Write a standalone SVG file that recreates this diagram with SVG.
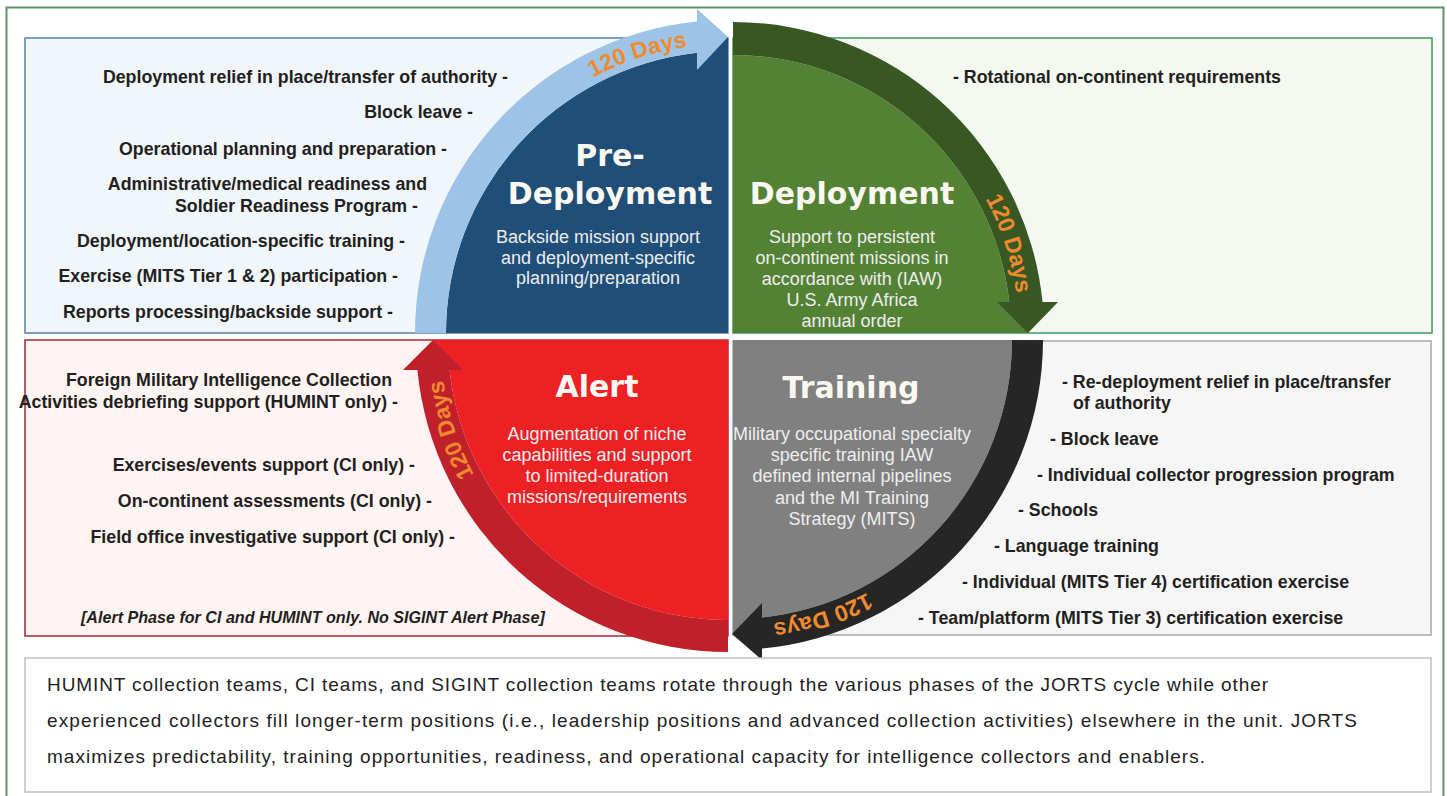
<svg xmlns="http://www.w3.org/2000/svg" width="1447" height="796" viewBox="0 0 1447 796">
<style>
.list{font-family:"Liberation Sans",Arial,sans-serif;font-weight:bold;font-size:17.8px;fill:#231f20}
.note{font-family:"Liberation Sans",Arial,sans-serif;font-weight:bold;font-style:italic;font-size:16.1px;fill:#231f20}
.title{font-family:"DejaVu Sans",sans-serif;font-weight:bold;font-size:30px;fill:#fbf8f1;text-anchor:middle}
.sub{font-family:"Liberation Sans",Arial,sans-serif;font-size:18px;fill:#eeeeee;text-anchor:middle}
.days{font-family:"Liberation Sans",Arial,sans-serif;font-weight:bold;font-size:23px;fill:#f08a2f}
.body{font-family:"Liberation Sans",Arial,sans-serif;font-size:19px;fill:#222222}
.e{text-anchor:end}
</style>
<defs>
<path id="arcBlue" d="M439,333 A289,289 0 0 1 728,44"/>
<path id="arcGreen" d="M733,47 A286,286 0 0 1 1019,333"/>
<path id="arcGray" d="M1019,340 A286,286 0 0 1 733,626"/>
<path id="arcRed" d="M728,627.5 A287.5,287.5 0 0 1 440.5,340"/>
</defs>
<rect x="6.5" y="7.5" width="1437" height="800" fill="#ffffff" stroke="#5e9368" stroke-width="2"/>

<g id="pre-deployment">
<rect x="25" y="38" width="703" height="295" fill="#f1f6fb" stroke="#5581ae" stroke-width="1.5"/>
<path d="M728,333 L446,333 A282,282 0 0 1 697,52.7 L728,37 Z" fill="#1f4e79"/>
<text class="list e" x="508" y="82.5">Deployment relief in place/transfer of authority -</text>
<text class="list e" x="473" y="118">Block leave -</text>
<text class="list e" x="447" y="154.5">Operational planning and preparation -</text>
<text class="list e" x="427" y="190">Administrative/medical readiness and</text>
<text class="list e" x="418" y="211.5">Soldier Readiness Program -</text>
<text class="list e" x="405" y="247">Deployment/location-specific training -</text>
<text class="list e" x="398" y="282">Exercise (MITS Tier 1 &amp; 2) participation -</text>
<text class="list e" x="393" y="317.5">Reports processing/backside support -</text>
<text class="title" x="610" y="166">Pre-</text>
<text class="title" x="610" y="204">Deployment</text>
<text class="sub" x="598" y="243">Backside mission support</text>
<text class="sub" x="598" y="263.5">and deployment-specific</text>
<text class="sub" x="598" y="284">planning/preparation</text>
</g>

<g id="deployment">
<rect x="733" y="38" width="699" height="295" fill="#f3f8f1" stroke="#3d9a62" stroke-width="1.5"/>
<path d="M733,333 L733,55 A278,278 0 0 1 1009.3,302 L1028,333 Z" fill="#548235"/>
<text class="list" x="953" y="82.5">- Rotational on-continent requirements</text>
<text class="title" x="852" y="204">Deployment</text>
<text class="sub" x="852" y="243">Support to persistent</text>
<text class="sub" x="852" y="264">on-continent missions in</text>
<text class="sub" x="852" y="285">accordance with (IAW)</text>
<text class="sub" x="852" y="306">U.S. Army Africa</text>
<text class="sub" x="852" y="327">annual order</text>
</g>

<g id="training">
<rect x="733" y="341" width="698" height="294" fill="#f5f6f5" stroke="#a6a6a6" stroke-width="1.5"/>
<path d="M733,340 L1012,340 A279,279 0 0 1 762,617.5 L733,634 Z" fill="#808080"/>
<text class="list" x="1062" y="388">- Re-deployment relief in place/transfer</text>
<text class="list" x="1073" y="408.5">of authority</text>
<text class="list" x="1050" y="445">- Block leave</text>
<text class="list" x="1037" y="481">- Individual collector progression program</text>
<text class="list" x="1018" y="516">- Schools</text>
<text class="list" x="994" y="552">- Language training</text>
<text class="list" x="962" y="588">- Individual (MITS Tier 4) certification exercise</text>
<text class="list" x="918" y="623.5">- Team/platform (MITS Tier 3) certification exercise</text>
<text class="title" x="851" y="398">Training</text>
<text class="sub" x="852" y="440">Military occupational specialty</text>
<text class="sub" x="852" y="461">specific training IAW</text>
<text class="sub" x="852" y="482">defined internal pipelines</text>
<text class="sub" x="852" y="503.5">and the MI Training</text>
<text class="sub" x="852" y="525">Strategy (MITS)</text>
</g>

<g id="alert">
<rect x="25" y="340" width="703" height="296" fill="#fdf4f3" stroke="#a8262d" stroke-width="1.5"/>
<path d="M728,340 L728,620 A280,280 0 0 1 449.6,370 L433,340 Z" fill="#ed2024"/>
<text class="list e" x="392" y="386">Foreign Military Intelligence Collection</text>
<text class="list e" x="398" y="408">Activities debriefing support (HUMINT only) -</text>
<text class="list e" x="415" y="471">Exercises/events support (CI only) -</text>
<text class="list e" x="432" y="507">On-continent assessments (CI only) -</text>
<text class="list e" x="455" y="543">Field office investigative support (CI only) -</text>
<text class="note" x="81" y="623">[Alert Phase for CI and HUMINT only. No SIGINT Alert Phase]</text>
<text class="title" x="597" y="397">Alert</text>
<text class="sub" x="597" y="440">Augmentation of niche</text>
<text class="sub" x="597" y="461">capabilities and support</text>
<text class="sub" x="597" y="482">to limited-duration</text>
<text class="sub" x="597" y="503">missions/requirements</text>
</g>

<g id="connectors">
<path d="M415,333 A313,313 0 0 1 697,21.5 L697,9 L728,37 L697,70 L697,52.7 A282,282 0 0 0 446,333 Z" fill="#9dc3e6"/>
<path d="M733,22 A311,311 0 0 1 1042.5,302 L1058,302 L1028,333 L997,302 L1009.3,302 A278,278 0 0 0 733,55 Z" fill="#385723"/>
<path d="M1043,340 A310,310 0 0 1 762,648.6 L762,660 L732,634 L762,603 L762,617.5 A279,279 0 0 0 1012,340 Z" fill="#262626"/>
<path d="M728,652 A312,312 0 0 1 417.4,370 L403,370 L433,340 L463,370 L449.6,370 A280,280 0 0 0 728,620 Z" fill="#c0202a"/>
<text class="days"><textPath href="#arcBlue" startOffset="80%" text-anchor="middle">120 Days</textPath></text>
<text class="days"><textPath href="#arcGreen" startOffset="80%" text-anchor="middle">120 Days</textPath></text>
<text class="days"><textPath href="#arcGray" startOffset="80%" text-anchor="middle">120 Days</textPath></text>
<text class="days"><textPath href="#arcRed" startOffset="80%" text-anchor="middle">120 Days</textPath></text>
</g>

<g id="summary">
<rect x="25" y="658" width="1406" height="134" fill="#ffffff" stroke="#c0c0c0" stroke-width="1.5"/>
<text class="body" x="47" y="691" textLength="1221" lengthAdjust="spacing">HUMINT collection teams, CI teams, and SIGINT collection teams rotate through the various phases of the JORTS cycle while other</text>
<text class="body" x="47" y="727" textLength="1310" lengthAdjust="spacing">experienced collectors fill longer-term positions (i.e., leadership positions and advanced collection activities) elsewhere in the unit. JORTS</text>
<text class="body" x="47" y="763" textLength="1158" lengthAdjust="spacing">maximizes predictability, training opportunities, readiness, and operational capacity for intelligence collectors and enablers.</text>
</g>
</svg>
